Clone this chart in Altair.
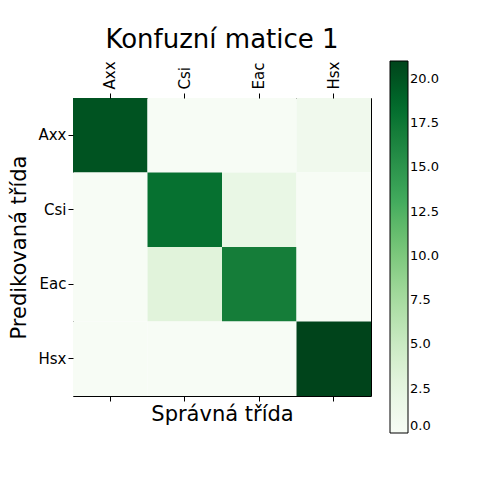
import altair as alt
import pandas as pd

tridy = ["Axx", "Csi", "Eac", "Hsx"]
# radky = predikovana trida, sloupce = spravna trida
matice = [
    [20, 0, 0, 1],
    [0, 18, 2, 0],
    [0, 3, 17, 0],
    [0, 0, 0, 21],
]
greens = ["#f7fcf5", "#e5f5e0", "#c7e9c0", "#a1d99b", "#74c476",
          "#41ab5d", "#238b45", "#006d2c", "#00441b"]

df = pd.DataFrame(
    [{"pred": tridy[i], "true": tridy[j], "n": matice[i][j]}
     for i in range(4) for j in range(4)]
)

F = "DejaVu Sans"
W = 298

y_enc = alt.Y("pred:N", sort=tridy, title="Predikovaná třída",
              axis=alt.Axis(labelFontSize=15, labelFont=F, labelColor="black",
                            tickColor="black", domain=False, titleFontSize=21,
                            titleFont=F, titleFontWeight="normal", titleColor="black",
                            labelAngle=0, titlePadding=8))

base = alt.Chart(df)

heat = base.mark_rect(strokeWidth=0).encode(
    x=alt.X("true:N", sort=tridy, title=None,
            axis=alt.Axis(orient="top", labelAngle=-90, labelFontSize=15,
                          labelFont=F, labelColor="black", tickColor="black",
                          domain=False, labelPadding=4)),
    y=y_enc,
    color=alt.Color("n:Q", scale=alt.Scale(range=greens, domain=[0, 21]),
                    title=None,
                    legend=alt.Legend(orient="none", legendX=317, legendY=-37,
                                      gradientLength=372, gradientThickness=18,
                                      gradientStrokeColor="black", gradientStrokeWidth=1,
                                      values=[0, 2.5, 5, 7.5, 10, 12.5, 15, 17.5, 20],
                                      format=".1f", labelFontSize=13, labelFont=F,
                                      labelColor="black")),
)

bottom = base.mark_rect(opacity=0).encode(
    x=alt.X("true:N", sort=tridy, title="Správná třída",
            axis=alt.Axis(orient="bottom", labels=False, tickColor="black",
                          domain=False, titleFontSize=21, titleFont=F,
                          titleFontWeight="normal", titleColor="black",
                          titlePadding=2)),
    y=y_enc,
)

chart = alt.layer(heat, bottom).resolve_axis(x="independent").properties(
    width=W, height=W,
    padding={"left": 0, "top": 18, "right": 5, "bottom": 5},
    title=alt.TitleParams("Konfuzní matice 1", fontSize=26, font=F,
                          fontWeight="normal", color="black", offset=8),
).configure_view(stroke="black", strokeWidth=1)

chart.save("out.html", embed_options={"renderer": "svg", "actions": False})
